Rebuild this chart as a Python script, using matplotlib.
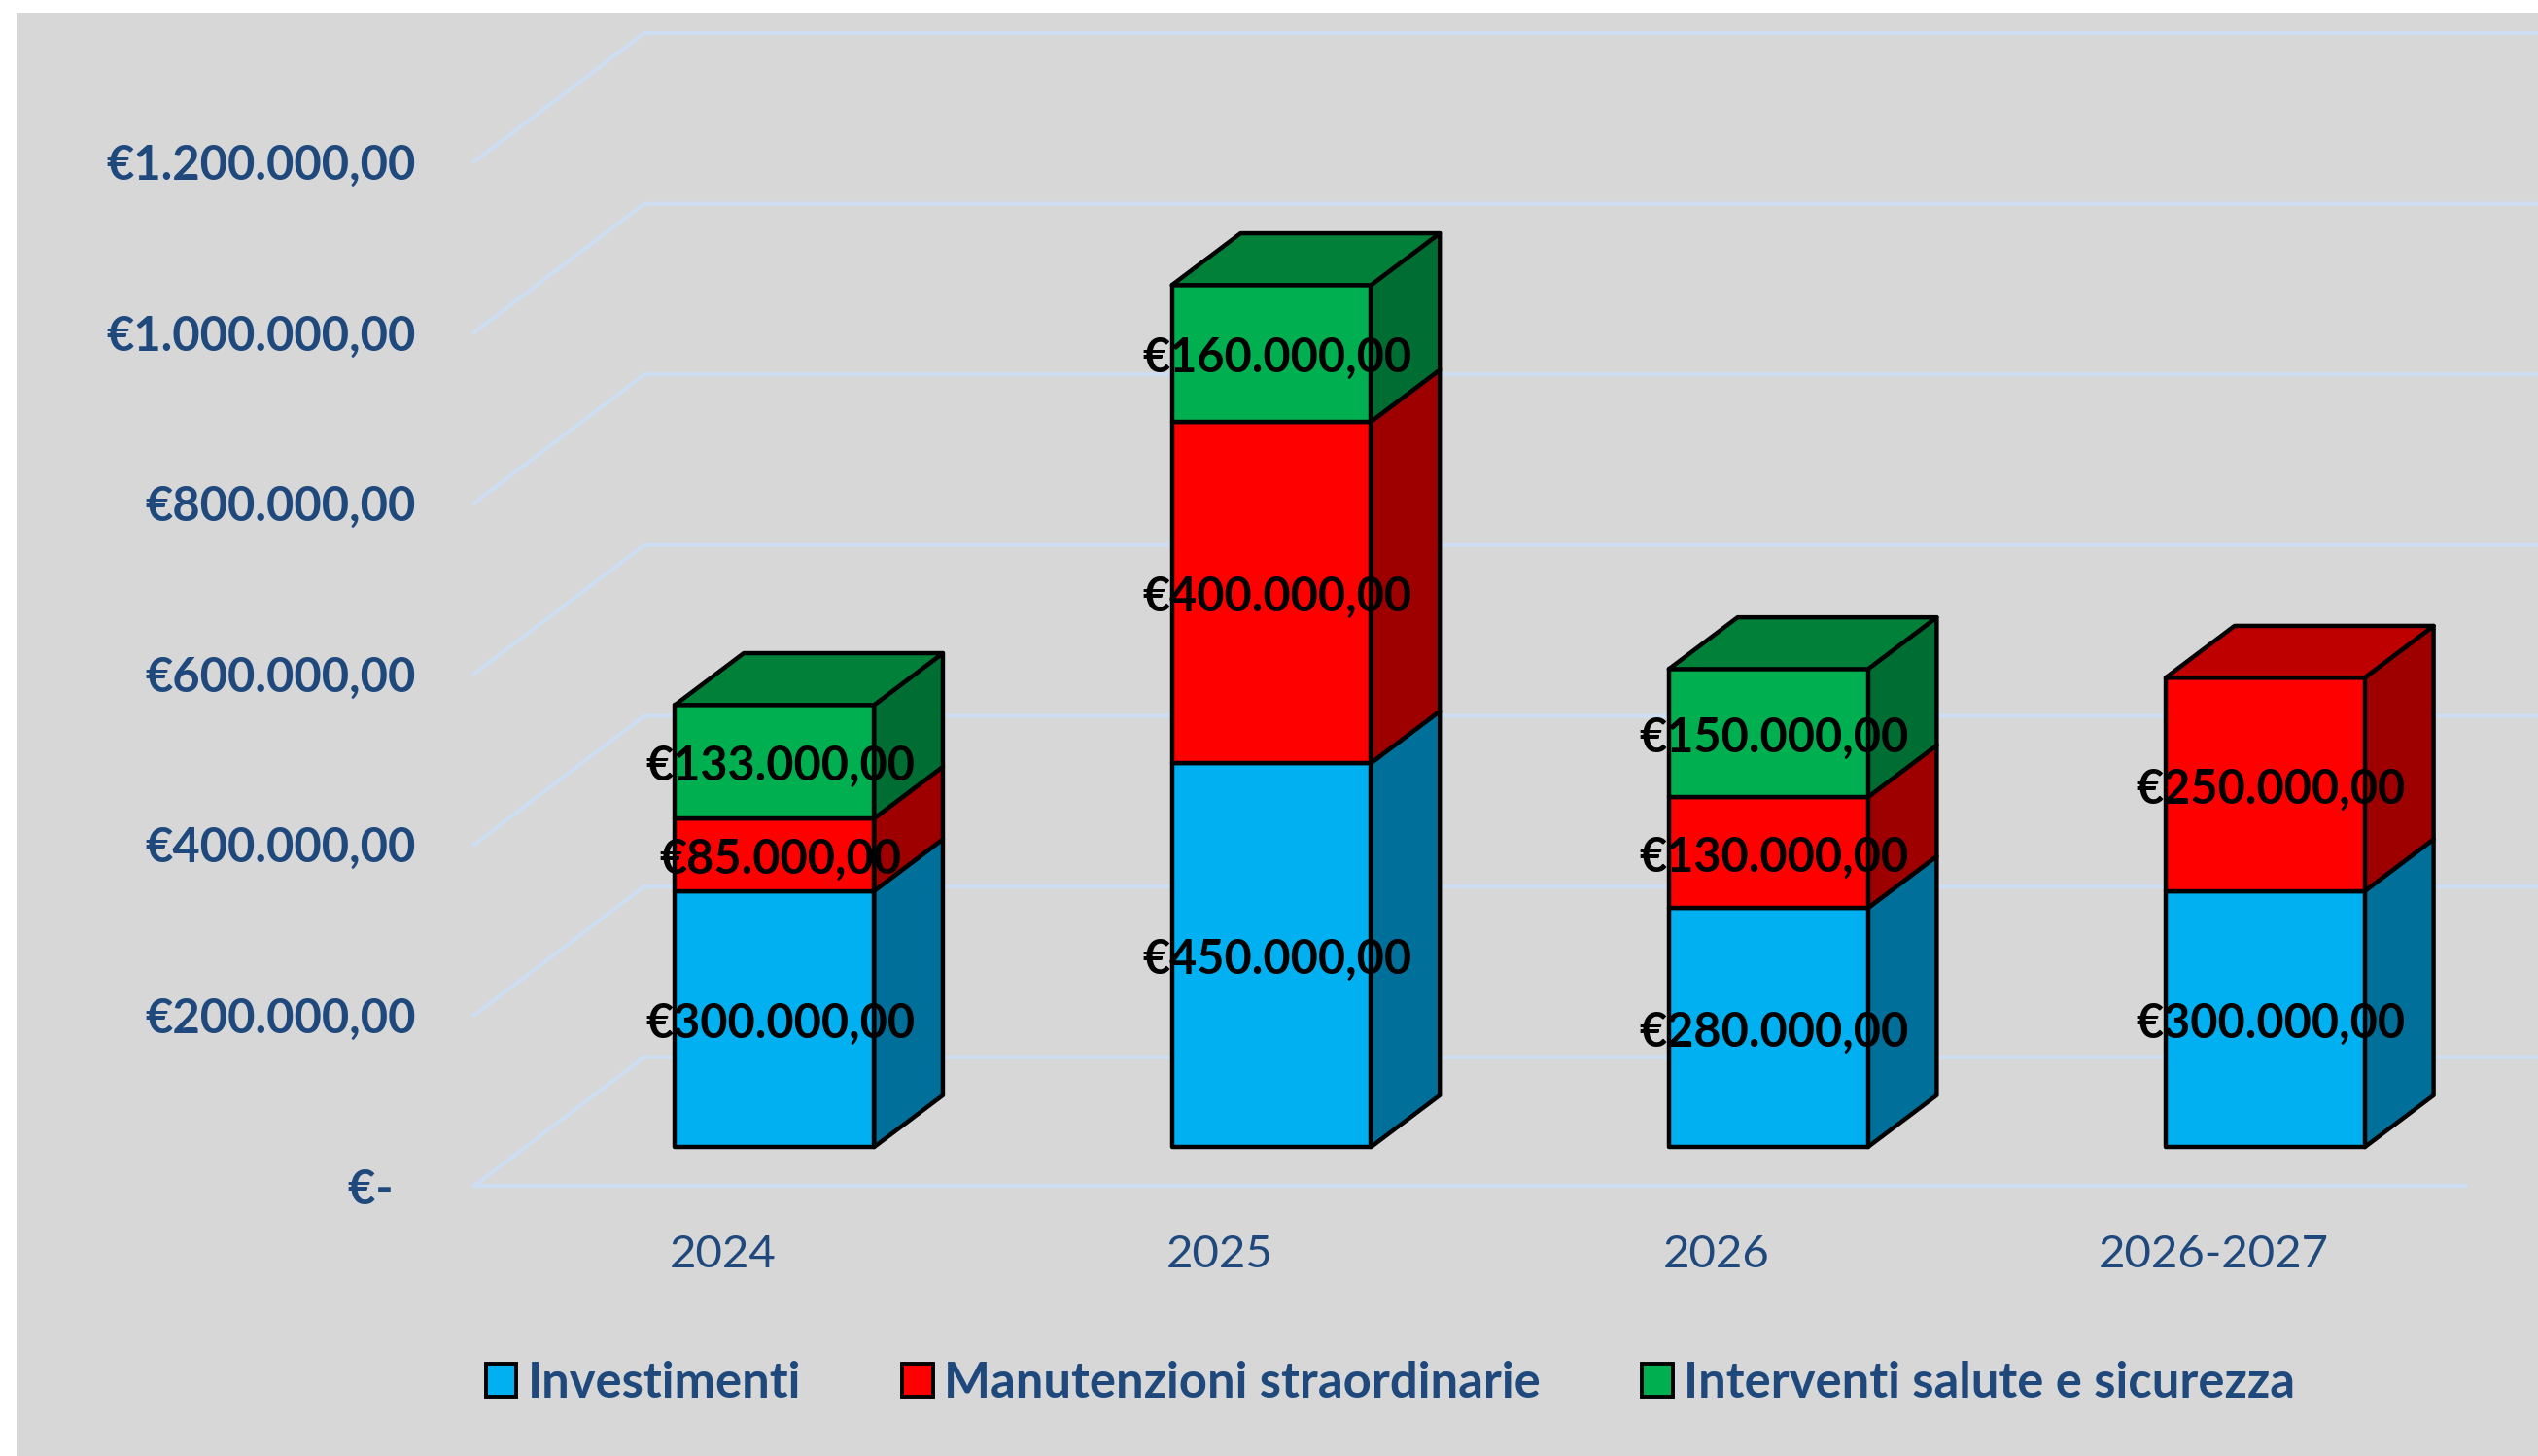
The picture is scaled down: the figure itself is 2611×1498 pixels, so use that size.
import matplotlib
matplotlib.use("Agg")
import matplotlib.pyplot as plt
from matplotlib.patches import Polygon, Rectangle

periods = ['2024', '2025', '2026', '2026-2027']
investimenti = [300000, 450000, 280000, 300000]
manutenzioni = [85000, 400000, 130000, 250000]
sicurezza = [133000, 160000, 150000, 0]
series_names = ['Investimenti', 'Manutenzioni straordinarie', 'Interventi salute e sicurezza']
y_ticks = [0, 200000, 400000, 600000, 800000, 1000000, 1200000]
y_labels = ['€-  ', '€200.000,00', '€400.000,00', '€600.000,00',
            '€800.000,00', '€1.000.000,00', '€1.200.000,00']

# front, side and top colour of each series
front_colors = ['#00B0F0', '#FF0000', '#00B050']
side_colors = ['#006F9A', '#9E0000', '#006E32']
top_colors = ['#007FAF', '#BE0000', '#008038']

BLUE = '#1F497D'
GRID = '#CDDEF2'
FONT = 'Lato'

# sizes measured on the 1568x900 view of the picture
W, H = 1568.0, 900.0
LEFT, RIGHT, BOTTOM, TOP = 293, 1521, 733, 100


def px_x(n):
    return n / ((RIGHT - LEFT) / 4.0)


def px_y(n):
    return n / ((BOTTOM - TOP) / 1200000.0)


def euro(value):
    return '€' + f'{value:,.2f}'.replace(',', 'X').replace('.', ',').replace('X', '.')


fig = plt.figure(figsize=(26.11, 14.98), dpi=100, facecolor='white')
fig.add_artist(Rectangle((10 / W, 0), 1 - 10 / W, 1 - 8 / H, transform=fig.transFigure,
                         facecolor='#D7D7D7', edgecolor='none', zorder=-5))

ax = fig.add_axes([LEFT / W, 1 - BOTTOM / H, (RIGHT - LEFT) / W, (BOTTOM - TOP) / H])
ax.patch.set_visible(False)
ax.set_xlim(-0.5, 3.5)
ax.set_ylim(0, 1200000)
for side in ax.spines.values():
    side.set_visible(False)

ax.set_xticks(range(len(periods)))
ax.set_xticklabels(periods, fontsize=34, color=BLUE, family=FONT)
ax.set_yticks(y_ticks)
ax.set_yticklabels(y_labels, fontsize=35.2, color=BLUE, family=FONT, fontweight='bold')
ax.tick_params(axis='x', length=0, pad=36)
ax.tick_params(axis='y', length=0, pad=43)

# floor and back wall grid
for tick in y_ticks:
    xs = [-0.5, -0.5 + px_x(105), 4.0]
    ys = [tick, tick + px_y(79.5), tick + px_y(79.5)]
    ax.plot(xs, ys, color=GRID, lw=3, clip_on=False, zorder=1, solid_joinstyle='miter')
ax.plot([-0.5, 3.5 + px_x(2)], [0, 0], color=GRID, lw=3, clip_on=False, zorder=1)

# the bars stand a little behind the front of the floor
shift_x, shift_y = px_x(32), px_y(24)
half = px_x(123) / 2.0
depth_x, depth_y = px_x(42.5), px_y(32)
edge = dict(edgecolor='black', linewidth=3.2, joinstyle='round', clip_on=False, zorder=3)

for i in range(len(periods)):
    x0 = i + shift_x - half
    x1 = i + shift_x + half
    base = shift_y
    stack = [investimenti[i], manutenzioni[i], sicurezza[i]]
    last = max(k for k in range(3) if stack[k] > 0)
    for k in range(3):
        value = stack[k]
        if value == 0:
            continue
        y0, y1 = base, base + value
        ax.add_patch(Polygon([(x1, y0), (x1 + depth_x, y0 + depth_y),
                              (x1 + depth_x, y1 + depth_y), (x1, y1)],
                             facecolor=side_colors[k], **edge))
        ax.add_patch(Polygon([(x0, y0), (x1, y0), (x1, y1), (x0, y1)],
                             facecolor=front_colors[k], **edge))
        if k == last:
            ax.add_patch(Polygon([(x0, y1), (x1, y1), (x1 + depth_x, y1 + depth_y),
                                  (x0 + depth_x, y1 + depth_y)],
                                 facecolor=top_colors[k], **edge))
        base = y1

# values go above all the boxes
for i in range(len(periods)):
    base = shift_y
    for value in [investimenti[i], manutenzioni[i], sicurezza[i]]:
        if value > 0:
            ax.text(i + shift_x + px_x(3.5), base + value / 2.0 - px_y(3), euro(value), ha='center',
                    va='center', fontsize=35, fontweight='bold', family=FONT,
                    color='black', zorder=5, clip_on=False)
        base += value

handles = [Rectangle((0, 0), 1, 1, facecolor=front_colors[k], edgecolor='black', linewidth=2.8)
           for k in range(3)]
leg = fig.legend(handles, series_names, ncols=3, loc='center', frameon=False,
                 bbox_to_anchor=(859 / W, 1 - 855 / H),
                 prop={'family': FONT, 'weight': 'bold', 'size': 36.5},
                 labelcolor=BLUE, handlelength=0.63, handleheight=0.66,
                 handletextpad=0.23, columnspacing=2.04)

fig.savefig('out.png', dpi=100, facecolor='white')
